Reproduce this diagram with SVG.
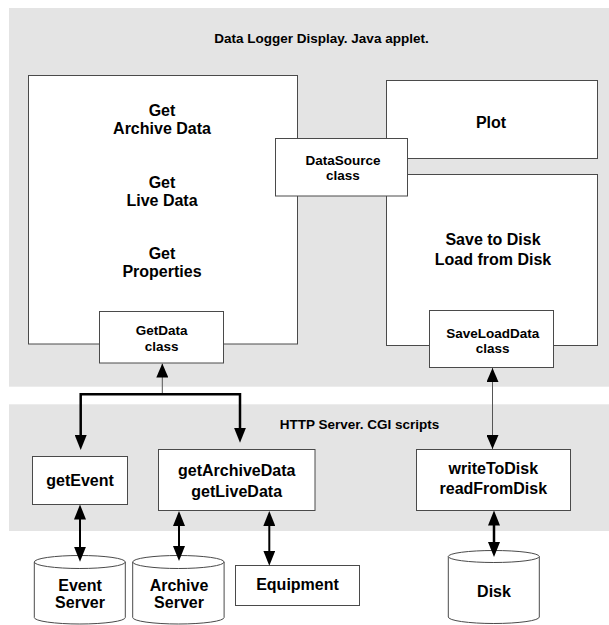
<svg xmlns="http://www.w3.org/2000/svg" width="609" height="625" viewBox="0 0 609 625">
<style>
  .panel { fill: #e4e4e4; stroke: none; }
  .box { fill: #ffffff; stroke: #4a4a4a; stroke-width: 1; }
  .t { font-family: "Liberation Sans", Arial, sans-serif; font-weight: bold; fill: #000; text-anchor: middle; }
  .big { font-size: 16px; }
  .cls { font-size: 13.5px; }
  .hdr { font-size: 13.5px; }
  .thin { fill: none; stroke: #555; stroke-width: 1; }
  .thick { fill: none; stroke: #000; stroke-width: 2.5; }
  .mid { fill: none; stroke: #000; stroke-width: 2; }
</style>
<defs>
  <marker id="ah" viewBox="0 0 15 12" refX="8" refY="6" markerWidth="15" markerHeight="12" markerUnits="userSpaceOnUse" orient="auto-start-reverse">
    <path d="M0,0 L15,6 L0,12 z" fill="#000"/>
  </marker>
  <marker id="ahThin" viewBox="0 0 14 12" refX="14" refY="6" markerWidth="14" markerHeight="12" markerUnits="userSpaceOnUse" orient="auto-start-reverse">
    <path d="M0,0 L14,6 L0,12 z" fill="#000"/>
  </marker>
</defs>

<g id="applet-panel">
  <rect class="panel" x="9" y="8" width="600" height="378.7"/>
  <text class="t hdr" x="321.5" y="43">Data Logger Display. Java applet.</text>
</g>
<g id="http-panel">
  <rect class="panel" x="9" y="404.3" width="600" height="126.7"/>
  <text class="t hdr" x="359.5" y="429.3">HTTP Server. CGI scripts</text>
</g>

<g id="data-panel">
  <rect class="box" x="28.5" y="75.5" width="269" height="268.5"/>
  <text class="t big" x="162" y="116">Get</text>
  <text class="t big" x="162" y="134">Archive Data</text>
  <text class="t big" x="162" y="187.7">Get</text>
  <text class="t big" x="162" y="205.7">Live Data</text>
  <text class="t big" x="162" y="259.4">Get</text>
  <text class="t big" x="162" y="277.4">Properties</text>
</g>

<g id="plot">
  <rect class="box" x="386.5" y="80.5" width="211" height="78"/>
  <text class="t big" x="491" y="127.7">Plot</text>
</g>

<g id="save-load-panel">
  <rect class="box" x="386.5" y="174.5" width="211" height="171"/>
  <text class="t big" x="493" y="245.3">Save to Disk</text>
  <text class="t big" x="493" y="265.3">Load from Disk</text>
</g>

<g id="datasource">
  <rect class="box" x="275.5" y="138.5" width="132" height="57.5"/>
  <text class="t cls" x="343" y="165.3">DataSource</text>
  <text class="t cls" x="343" y="180">class</text>
</g>

<g id="getdata-class">
  <rect class="box" x="99.5" y="311.5" width="124" height="51.5"/>
  <text class="t cls" x="161.7" y="335.3">GetData</text>
  <text class="t cls" x="161.7" y="350.7">class</text>
</g>

<g id="saveloaddata-class">
  <rect class="box" x="429.5" y="310.5" width="124" height="57"/>
  <text class="t cls" x="492.7" y="337.7">SaveLoadData</text>
  <text class="t cls" x="492.7" y="353.3">class</text>
</g>

<g id="getEvent">
  <rect class="box" x="32.5" y="456.5" width="95" height="48"/>
  <text class="t big" x="80" y="485.7">getEvent</text>
</g>

<g id="getArchiveData">
  <rect class="box" x="158.5" y="449.5" width="156.5" height="61"/>
  <text class="t big" x="236.7" y="475.7">getArchiveData</text>
  <text class="t big" x="236.7" y="496.7">getLiveData</text>
</g>

<g id="writeToDisk">
  <rect class="box" x="416.5" y="449.5" width="154" height="61"/>
  <text class="t big" x="493.3" y="474.3">writeToDisk</text>
  <text class="t big" x="493.3" y="494">readFromDisk</text>
</g>

<g id="event-server">
  <path class="box" d="M34.3,562 V617.5 A45.5,6.5 0 0 0 125.3,617.5 V562"/>
  <ellipse class="box" cx="79.8" cy="562" rx="45.5" ry="6.5"/>
  <text class="t big" x="80" y="590.7">Event</text>
  <text class="t big" x="80" y="608.3">Server</text>
</g>

<g id="archive-server">
  <path class="box" d="M132.7,562 V617.5 A45.7,6.5 0 0 0 224.1,617.5 V562"/>
  <ellipse class="box" cx="178.4" cy="562" rx="45.7" ry="6.5"/>
  <text class="t big" x="179" y="590.7">Archive</text>
  <text class="t big" x="179" y="608.3">Server</text>
</g>

<g id="equipment">
  <rect class="box" x="235.5" y="565.5" width="124" height="40"/>
  <text class="t big" x="297.5" y="590">Equipment</text>
</g>

<g id="disk">
  <path class="box" d="M448.3,556.5 V617 A45.5,6.5 0 0 0 539.3,617 V556.5"/>
  <ellipse class="box" cx="493.8" cy="556.5" rx="45.5" ry="6"/>
  <text class="t big" x="494" y="596.7">Disk</text>
</g>

<g id="connectors">
  <path class="thin" d="M162.3,394.3 V363.5" marker-end="url(#ahThin)"/>
  <path class="thick" d="M80.7,443 V394.3 H240 V435.7" marker-start="url(#ah)" marker-end="url(#ah)"/>
  <path class="thin" d="M492.5,368 V449" marker-start="url(#ahThin)" marker-end="url(#ahThin)"/>
  <path class="mid" d="M80,511.5 V554.7" marker-start="url(#ah)" marker-end="url(#ah)"/>
  <path class="mid" d="M179,518 V554" marker-start="url(#ah)" marker-end="url(#ah)"/>
  <path class="mid" d="M269.3,518 V558.7" marker-start="url(#ah)" marker-end="url(#ah)"/>
  <path class="thick" d="M494,517.5 V550" marker-start="url(#ah)" marker-end="url(#ah)"/>
</g>
</svg>
